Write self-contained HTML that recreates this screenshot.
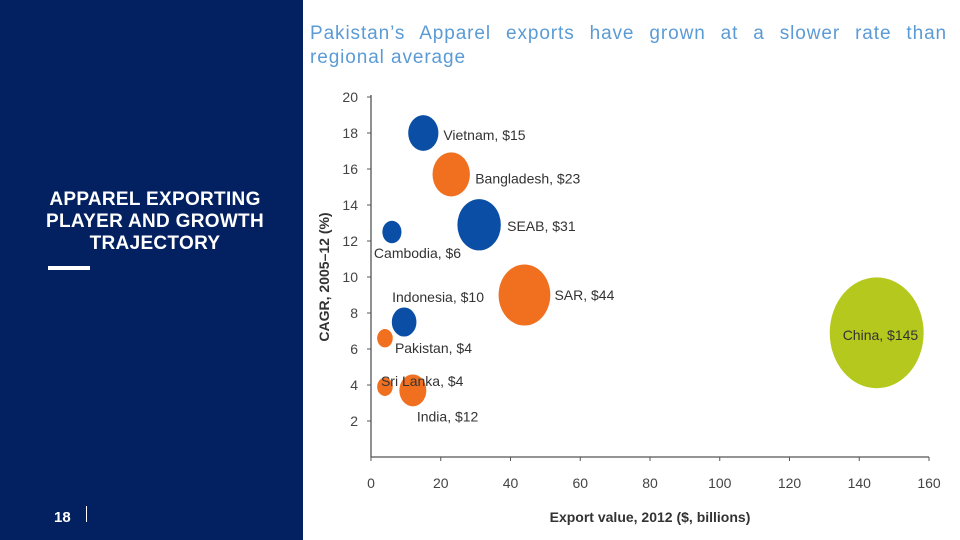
<!DOCTYPE html>
<html><head><meta charset="utf-8"><style>
body{margin:0;width:960px;height:540px;position:relative;background:#fff;font-family:"Liberation Sans",sans-serif;overflow:hidden}
#left{position:absolute;left:0;top:0;width:303px;height:540px;background:#032160}
#ltitle{position:absolute;left:0;width:310px;top:189px;text-align:center;color:#fff;font-weight:bold;font-size:19px;line-height:22px;letter-spacing:0.3px}
#bar{position:absolute;left:48px;top:266px;width:42px;height:4px;background:#fff}
#pg{position:absolute;left:54px;top:509px;color:#fff;font-size:15px;font-weight:bold}
#pgl{position:absolute;left:86px;top:506px;width:1px;height:16px;background:#fff}
#title{position:absolute;left:310px;top:22px;width:637px;color:#5b9bd5;font-size:19px;line-height:24px;letter-spacing:0.9px}
#title span{display:block;text-align:justify;text-align-last:justify}
svg{position:absolute;left:0;top:0}
svg text{font-family:"Liberation Sans",sans-serif}
</style></head><body>
<div id="left"></div>
<div id="ltitle">APPAREL EXPORTING<br>PLAYER AND GROWTH<br>TRAJECTORY</div>
<div id="bar"></div>
<div id="pg">18</div>
<div id="pgl"></div>
<div id="title"><span>Pakistan’s Apparel exports have grown at a slower rate than</span>regional average</div>
<svg id="chart" width="960" height="540"></svg>
<script>
const names=["Vietnam, $15","Bangladesh, $23","SEAB, $31","Cambodia, $6","SAR, $44","Indonesia, $10","Pakistan, $4","Sri Lanka, $4","India, $12","China, $145"];
const xVals=[15,23,31,6,44,9.5,4,4,12,145];
const yVals=[18,15.7,12.9,12.5,9,7.5,6.6,3.9,3.7,6.9];
const sizes=[15,23,31,6,44,10,4,4,12,145];
const colors=["#0a4ea6","#f07020","#0a4ea6","#0a4ea6","#f07020","#0a4ea6","#f07020","#f07020","#f07020","#b5c81e"];
const labelDx=[20,24,28,-18,30,-12,10,-4,4,-34];
const labelDy=[2,4,1,21,0,-25,10,-6,26,2];
const xTicks=[0,20,40,60,80,100,120,140,160];
const yTicks=[2,4,6,8,10,12,14,16,18,20];
const NS="http://www.w3.org/2000/svg";
const svg=document.getElementById('chart');
const X=v=>371+v*(929-371)/160;
const Y=v=>457-v*18;
function mk(t,a){const e=document.createElementNS(NS,t);for(const k in a)e.setAttribute(k,a[k]);svg.appendChild(e);return e;}
let ax=mk('path',{d:`M371,${Y(20)-2} L371,${Y(0)} L929,${Y(0)}`,stroke:'#555',fill:'none','stroke-width':1.3});


xTicks.forEach(t=>{
 let l=mk('line',{x1:X(t),x2:X(t),y1:Y(0),y2:Y(0)+4,stroke:'#555'});
 
 
 let tx=mk('text',{x:X(t),y:488,'text-anchor':'middle','font-size':14,fill:'#444'});tx.textContent=t;
 
 
});
yTicks.forEach(t=>{
 let l=mk('line',{x1:367,x2:371,y1:Y(t),y2:Y(t),stroke:'#555'});
 
 
 let tx=mk('text',{x:358,y:Y(t)+5,'text-anchor':'end','font-size':14,fill:'#444'});tx.textContent=t;
 
 
});
names.forEach((n,i)=>{
 const r=Math.sqrt(sizes[i])*3.9;
 let c=mk('ellipse',{cx:X(xVals[i]),cy:Y(yVals[i]),rx:r,ry:r*1.18,fill:colors[i]});
 
 
});
names.forEach((n,i)=>{
 let tx=mk('text',{x:X(xVals[i])+labelDx[i],y:Y(yVals[i])+labelDy[i]+5,'font-size':14,fill:'#333'});
 tx.textContent=n;
 
 
});
let xt=mk('text',{x:650,y:522,'text-anchor':'middle','font-size':14,'font-weight':'bold',fill:'#333'});xt.textContent="Export value, 2012 ($, billions)";


let yt=mk('text',{x:0,y:0,'text-anchor':'middle','font-size':14,'font-weight':'bold',fill:'#333',transform:'translate(329,277) rotate(-90)'});yt.textContent="CAGR, 2005–12 (%)";


</script>
</body></html>
